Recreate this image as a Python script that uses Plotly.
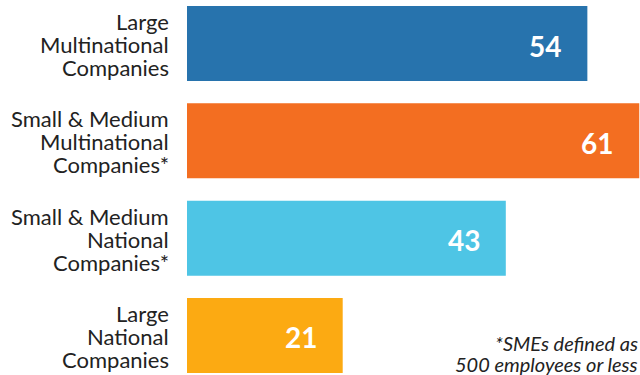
import plotly.graph_objects as go

categories = [
    "Large<br>Multinational<br>Companies",
    "Small & Medium<br>Multinational<br>Companies*",
    "Small & Medium<br>National<br>Companies*",
    "Large<br>National<br>Companies",
]
values = [54, 61, 43, 21]
colors = ["#2773AD", "#F36E21", "#4EC5E5", "#FCAA12"]
footnote_lines = ["*SMEs defined as", "500 employees or less"]

positions = list(range(len(categories)))
LABEL_FONT = dict(family="Lato", size=22, color="#222222")
LINE_GAP = 23

fig = go.Figure()
fig.add_trace(go.Bar(
    x=values, y=positions, orientation="h",
    marker=dict(color=colors, line=dict(width=0)),
    width=0.771, hoverinfo="skip",
))

# Category labels, one annotation per line for tight line spacing
for p, cat in zip(positions, categories):
    lines = cat.split("<br>")
    n = len(lines)
    for j, line in enumerate(lines):
        fig.add_annotation(
            x=0, y=p, xref="paper", yref="y", text=line,
            showarrow=False, xanchor="right", yanchor="middle",
            xshift=-16, yshift=-(j - (n - 1) / 2) * LINE_GAP - 1,
            font=LABEL_FONT,
        )

for p, v in zip(positions, values):
    fig.add_annotation(
        x=v, y=p, xref="x", yref="y", text="<b>%d</b>" % v,
        showarrow=False, xanchor="right", yanchor="middle",
        xshift=-24, yshift=-2,
        font=dict(family="Lato", size=28, color="white"),
    )

for k, line in enumerate(footnote_lines):
    fig.add_annotation(
        x=1, y=0, xref="paper", yref="paper", text="<i>%s</i>" % line,
        showarrow=False, xanchor="right", yanchor="bottom", align="right",
        font=dict(family="Lato", size=20, color="#222222"),
        xshift=0, yshift=(len(footnote_lines) - 1 - k) * 21 - 3,
    )

fig.update_layout(
    width=640, height=375,
    margin=dict(l=187, r=0, t=0, b=0),
    plot_bgcolor="white", paper_bgcolor="white",
    showlegend=False,
    xaxis=dict(range=[0, 61.1], visible=False, fixedrange=True),
    yaxis=dict(
        range=[3.406, -0.447], tickvals=positions, showticklabels=False,
        showgrid=False, zeroline=False, showline=False, ticks="",
        fixedrange=True,
    ),
)

fig.write_html(
    "out.html",
    config={"displayModeBar": False},
    post_script="document.body.style.margin='0';document.body.style.overflow='hidden';",
)
